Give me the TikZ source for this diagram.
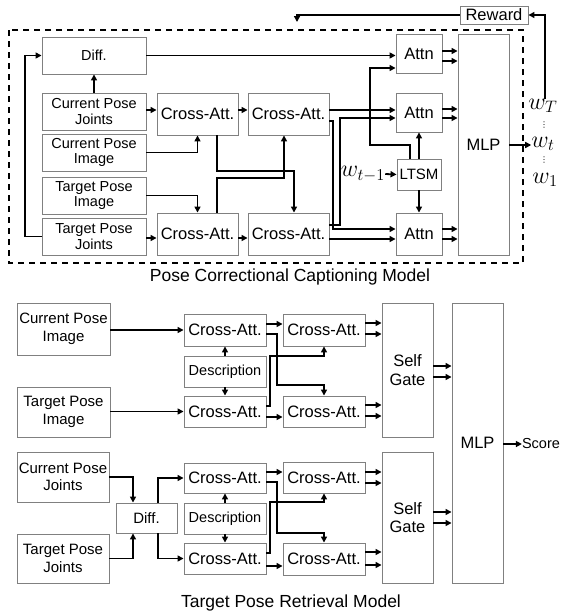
\RequirePackage{fix-cm}
\documentclass[tikz,border=0pt]{standalone}
\usepackage{graphicx}
\usepackage{fontspec}
\setmainfont{Liberation Sans}
\newfontfamily\symfont{DejaVu Sans}
\usetikzlibrary{arrows.meta}
\newcommand{\wlab}[1]{\scalebox{1.15}{$#1$}}
\begin{document}
\begin{tikzpicture}[x=1pt,y=-1pt,
  box/.style={draw=black!50, line width=0.9pt, fill=white, inner sep=1pt, align=center},
  fa/.style={font=\fontsize{14.5}{15.5}\selectfont},
  fb/.style={font=\fontsize{15}{17.5}\selectfont},
  fc/.style={font=\fontsize{16.5}{18.5}\selectfont},
  fcap/.style={font=\fontsize{17.5}{19}\selectfont},
  fw/.style={font=\fontsize{20.74}{21}\selectfont, inner sep=0pt},
  fdots/.style={font=\symfont\fontsize{8}{8}\selectfont, inner sep=0pt},
  conn/.style={line width=1.8pt, -{Triangle[length=6pt,width=6pt]}},
  dbox/.style={line width=1.5pt, dash pattern=on 6pt off 5pt},
]
\useasboundingbox (0,0) rectangle (561,613);

% ================= TOP: Pose Correctional Captioning Model =================
\draw[dbox] (9,30) rectangle (523,263);

\node[box,fa,minimum width=104,minimum height=37] (diff1) at (94,55.5) {Diff.};
\node[box,fa,minimum width=104,minimum height=37] (cpj1) at (94,111.5) {Current Pose\\Joints};
\node[box,fa,minimum width=104,minimum height=37] (cpi1) at (94,152.5) {Current Pose\\Image};
\node[box,fa,minimum width=104,minimum height=37] (tpi1) at (94,195.5) {Target Pose\\Image};
\node[box,fa,minimum width=104,minimum height=37] (tpj1) at (94,236.5) {Target Pose\\Joints};

\node[box,fc,minimum width=81,minimum height=42] (ca11) at (197.5,114) {Cross-Att.};
\node[box,fc,minimum width=81,minimum height=42] (ca12) at (288.5,114) {Cross-Att.};
\node[box,fc,minimum width=81,minimum height=42] (ca21) at (197.5,234) {Cross-Att.};
\node[box,fc,minimum width=81,minimum height=42] (ca22) at (288.5,234) {Cross-Att.};

\node[box,fc,minimum width=46,minimum height=39] (attn1) at (419,53.5) {Attn};
\node[box,fc,minimum width=46,minimum height=39] (attn2) at (419,112.5) {Attn};
\node[box,fc,minimum width=46,minimum height=42] (attn3) at (419,234) {Attn};
\node[box,fb,minimum width=44,minimum height=31] (ltsm) at (419,174.5) {LTSM};
\node[box,fc,minimum width=51,minimum height=221] (mlp1) at (483.5,144.5) {MLP};
\node[box,fc,minimum width=68,minimum height=18,inner sep=0pt] (reward) at (494,15) {Reward};

\node[fw] (wT) at (543,106) {\wlab{w_T}};
\node[fdots] (d1) at (544,125) {⋮};
\node[fw] (wt) at (543,144) {\wlab{w_t}};
\node[fdots] (d2) at (544,160.5) {⋮};
\node[fw] (w1) at (545,180) {\wlab{w_1}};
\node[fw] (wtm) at (363,174) {\wlab{w_{t-1}}};

\node[fcap] (cap1) at (290,277) {Pose Correctional Captioning Model};

% connectors top
\draw[conn] (tpj1.west) -- (25,0 |- tpj1.west) |- (diff1.west);
\draw[conn] (cpj1.north) -- (diff1.south);
\draw[conn] (diff1.east) -- (attn1.west |- diff1.east);
\draw[conn] (cpj1.east |- 0,110) -- (ca11.west |- 0,110);
\draw[conn] (ca11.east |- 0,110) -- (ca12.west |- 0,110);
\draw[conn] (cpi1.east) -| (ca11.south);
\draw[conn] (tpi1.east) -| (ca21.north);
\draw[conn] (217,0 |- ca11.south) |- (294,171) -- (294,0 |- ca22.north);
\draw[conn] (217,0 |- ca21.north) |- (284,178) -- (284,0 |- ca12.south);
\draw[conn] (tpj1.east |- 0,238) -- (ca21.west |- 0,238);
\draw[conn] (ca21.east |- 0,238) -- (ca22.west |- 0,238);
\draw[conn] (ca12.east |- 0,110) -- (attn2.west |- 0,110);
\draw[conn] (ca12.east |- 0,121) -- (333,121) -- (333,229) -- (attn3.west |- 0,229);
\draw[conn] (ca22.east |- 0,225) -- (340,225) -- (340,118) -- (attn2.west |- 0,118);
\draw[conn] (ca22.east |- 0,239) -- (attn3.west |- 0,239);
\draw[conn] (410,0 |- ltsm.north) |- (370,145) |- (attn1.west |- 0,68);
\draw[conn] (ltsm.north) -- (attn2.south);
\draw[conn] (ltsm.south) -- (attn3.north);
\draw[conn] (wtm.east) -- (ltsm.west);
\draw[conn] (attn1.east |- 0,51) -- (mlp1.west |- 0,51);
\draw[conn] (attn1.east |- 0,61) -- (mlp1.west |- 0,61);
\draw[conn] (attn2.east |- 0,109) -- (mlp1.west |- 0,109);
\draw[conn] (attn2.east |- 0,118) -- (mlp1.west |- 0,118);
\draw[conn] (attn3.east |- 0,229) -- (mlp1.west |- 0,229);
\draw[conn] (attn3.east |- 0,239) -- (mlp1.west |- 0,239);
\draw[conn] (mlp1.east |- 0,145) -- (wt.west |- 0,145);
\draw[conn] (545,0 |- wT.north) |- (reward.east);
\draw[conn] (reward.west) -| (297,22);

% ================= BOTTOM: Target Pose Retrieval Model =================
\node[box,fb,minimum width=93,minimum height=52] (cpi2) at (63.5,329) {Current Pose\\Image};
\node[box,fb,minimum width=93,minimum height=50] (tpi2) at (63.5,412) {Target Pose\\Image};
\node[box,fc,minimum width=82,minimum height=32] (ca31) at (225,330) {Cross-Att.};
\node[box,fa,minimum width=82,minimum height=31] (desc1) at (225,371.5) {Description};
\node[box,fc,minimum width=82,minimum height=31] (ca32) at (225,411.5) {Cross-Att.};
\node[box,fc,minimum width=82,minimum height=32] (ca33) at (324,330) {Cross-Att.};
\node[box,fc,minimum width=82,minimum height=31] (ca34) at (324,411.5) {Cross-Att.};
\node[box,fc,minimum width=51,minimum height=134] (sg1) at (407.5,370) {Self\\Gate};
\node[box,fc,minimum width=51,minimum height=280] (mlp2) at (477.5,443) {MLP};
\node[fa,inner sep=0pt] (score) at (541,444) {Score};

\node[box,fb,minimum width=92,minimum height=50] (cpj2) at (63,477) {Current Pose\\Joints};
\node[box,fb,minimum width=92,minimum height=49] (tpj2) at (63,558.5) {Target Pose\\Joints};
\node[box,fb,minimum width=61,minimum height=30] (diff2) at (146.5,518) {Diff.};
\node[box,fc,minimum width=82,minimum height=30] (ca41) at (225,478) {Cross-Att.};
\node[box,fa,minimum width=82,minimum height=31] (desc2) at (225,518.5) {Description};
\node[box,fc,minimum width=82,minimum height=31] (ca42) at (225,558.5) {Cross-Att.};
\node[box,fc,minimum width=82,minimum height=31] (ca43) at (324,477.5) {Cross-Att.};
\node[box,fc,minimum width=82,minimum height=32] (ca44) at (324,559) {Cross-Att.};
\node[box,fc,minimum width=51,minimum height=131] (sg2) at (407.5,517.5) {Self\\Gate};

\node[fcap] (cap2) at (291,603) {Target Pose Retrieval Model};

% connectors bottom (image branch)
\draw[conn] (cpi2.east |- ca31.west) -- (ca31.west);
\draw[conn] (tpi2.east |- ca32.west) -- (ca32.west);
\draw[conn] (desc1.north) -- (ca31.south);
\draw[conn] (desc1.south) -- (ca32.north);
\draw[conn] (ca31.east |- 0,324) -- (ca33.west |- 0,324);
\draw[conn] (ca31.east |- 0,334) -- (277,334) -- (277,385) -- (324,385) -- (ca34.north);
\draw[conn] (ca32.east |- 0,406) -- (270,406) -- (270,356) -- (324,356) -- (ca33.south);
\draw[conn] (ca32.east |- 0,417) -- (ca34.west |- 0,417);
\draw[conn] (ca33.east |- 0,323) -- (sg1.west |- 0,323);
\draw[conn] (ca33.east |- 0,334) -- (sg1.west |- 0,334);
\draw[conn] (ca34.east |- 0,405) -- (sg1.west |- 0,405);
\draw[conn] (ca34.east |- 0,416) -- (sg1.west |- 0,416);
\draw[conn] (sg1.east |- 0,366) -- (mlp2.west |- 0,366);
\draw[conn] (sg1.east |- 0,377) -- (mlp2.west |- 0,377);
\draw[conn] (mlp2.east |- score.west) -- (score.west);

% connectors bottom (joints branch)
\draw[conn] (cpj2.east) -| (133,0 |- diff2.north);
\draw[conn] (tpj2.east) -| (133,0 |- diff2.south);
\draw[conn] (158,0 |- diff2.north) |- (ca41.west);
\draw[conn] (158,0 |- diff2.south) |- (ca42.west);
\draw[conn] (desc2.north) -- (ca41.south);
\draw[conn] (desc2.south) -- (ca42.north);
\draw[conn] (ca41.east |- 0,472) -- (ca43.west |- 0,472);
\draw[conn] (ca41.east |- 0,482) -- (277,482) -- (277,533) -- (324,533) -- (ca44.north);
\draw[conn] (ca42.east |- 0,553) -- (270,553) -- (270,502) -- (324,502) -- (ca43.south);
\draw[conn] (ca42.east |- 0,566) -- (ca44.west |- 0,566);
\draw[conn] (ca43.east |- 0,472) -- (sg2.west |- 0,472);
\draw[conn] (ca43.east |- 0,483) -- (sg2.west |- 0,483);
\draw[conn] (ca44.east |- 0,552) -- (sg2.west |- 0,552);
\draw[conn] (ca44.east |- 0,565) -- (sg2.west |- 0,565);
\draw[conn] (sg2.east |- 0,512) -- (mlp2.west |- 0,512);
\draw[conn] (sg2.east |- 0,523) -- (mlp2.west |- 0,523);
\end{tikzpicture}
\end{document}
